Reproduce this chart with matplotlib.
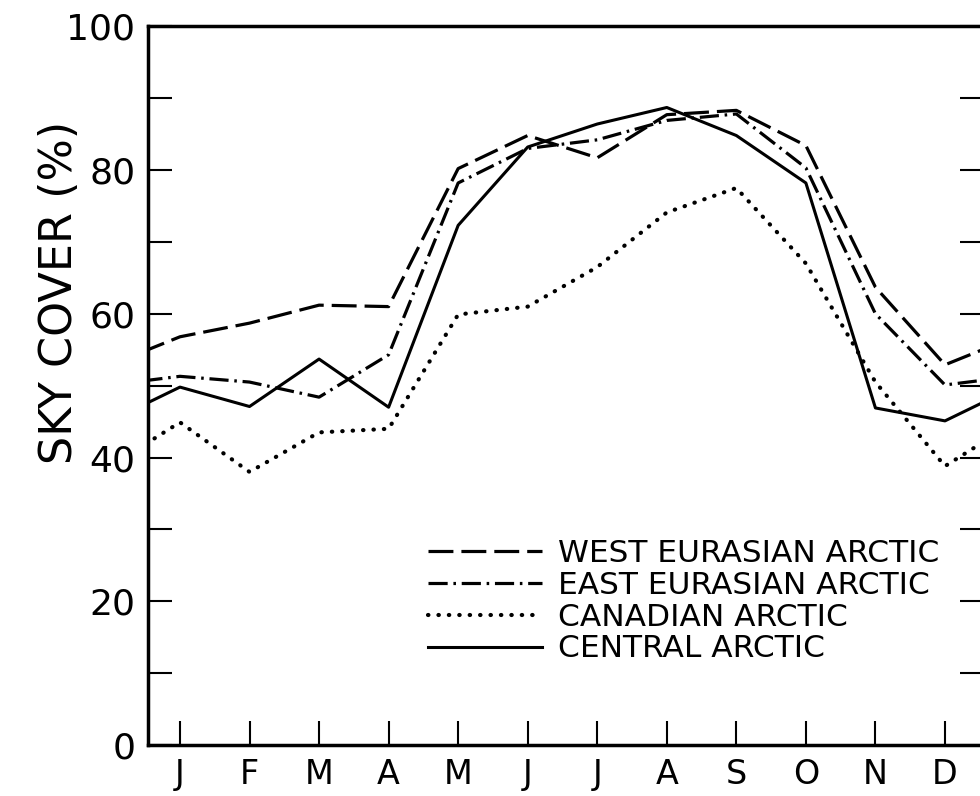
import numpy as np
import matplotlib.pyplot as plt

# monthly mean sky cover (%), Jan..Dec
months = ['J', 'F', 'M', 'A', 'M', 'J', 'J', 'A', 'S', 'O', 'N', 'D']

west_eurasian = [56.8, 58.7, 61.2, 61.0, 80.2, 84.8, 81.7, 87.7, 88.3, 83.4, 63.7, 52.9]
east_eurasian = [51.3, 50.5, 48.4, 54.3, 78.2, 83.0, 84.2, 86.9, 87.8, 80.3, 60.0, 50.1]
canadian = [44.9, 38.0, 43.5, 44.0, 59.9, 61.0, 66.5, 74.1, 77.5, 67.0, 50.5, 38.8]
central = [49.8, 47.1, 53.7, 47.0, 72.3, 83.2, 86.4, 88.7, 84.8, 78.2, 46.9, 45.1]

labels = ['WEST EURASIAN ARCTIC', 'EAST EURASIAN ARCTIC', 'CANADIAN ARCTIC', 'CENTRAL ARCTIC']

plt.rcParams['font.family'] = 'DejaVu Sans'

fig = plt.figure(figsize=(9.8, 7.96), dpi=100)
ax = fig.add_axes([0.151, 0.064, 0.853, 0.903])

# annual cycle: Dec before and Jan after, so the lines run out to the frame
x = np.arange(-1, 13)
def wrap(v):
    return [v[-1]] + list(v) + [v[0]]

ax.plot(x, wrap(west_eurasian), color='black', lw=2.3, ls=(0, (7.8, 2.5)), label=labels[0])
ax.plot(x, wrap(east_eurasian), color='black', lw=2.3, ls=(0, (6, 1.8, 0.8, 1.8)), label=labels[1])
ax.plot(x, wrap(canadian), color='black', lw=3.0, ls=(0, (0.1, 2.4)), dash_capstyle='round', label=labels[2])
ax.plot(x, wrap(central), color='black', lw=2.2, label=labels[3])

ax.set_xlim(-0.46, 11.56)
ax.set_ylim(0, 100)
ax.set_xticks(range(12))
ax.set_xticklabels(months)
ax.set_yticks(range(0, 101, 20))
ax.set_yticks(range(10, 100, 20), minor=True)

ax.tick_params(axis='both', which='both', direction='in', length=17, width=1.5,
               right=True, top=False, pad=9)
ax.tick_params(axis='y', labelsize=26)
ax.tick_params(axis='x', labelsize=24)
for s in ax.spines.values():
    s.set_linewidth(2.5)

ax.set_ylabel('SKY COVER (%)', fontsize=32)
ax.yaxis.set_label_coords(-0.080, 0.63)

ax.legend(loc='upper left', bbox_to_anchor=(428 / 980, 1 - 539 / 796), bbox_transform=fig.transFigure,
          frameon=False, fontsize=22.5, handlelength=3.65, handletextpad=0.5,
          labelspacing=0.09, borderpad=0, borderaxespad=0)

plt.savefig('out.png', dpi=100)
